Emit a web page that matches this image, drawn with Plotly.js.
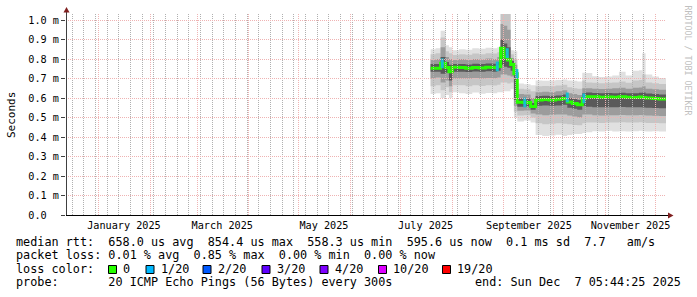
<!DOCTYPE html>
<html><head><meta charset="utf-8">
<script src="https://cdn.plot.ly/plotly-3.0.1.min.js"></script>
<style>html,body{margin:0;padding:0;background:#fff}</style>
</head><body><div id="chart" style="width:697px;height:297px"></div>
<script>
// ---------- data (values in milliseconds) ----------
const dates = ['2025-07-19','2025-07-22','2025-07-25','2025-07-28','2025-07-30','2025-08-01','2025-08-05','2025-08-09','2025-08-13','2025-08-17',
 '2025-08-21','2025-08-25','2025-08-28','2025-08-30','2025-09-01','2025-09-03','2025-09-05','2025-09-07','2025-09-09','2025-09-13',
 '2025-09-17','2025-09-20','2025-09-24','2025-09-28','2025-10-02','2025-10-06','2025-10-09','2025-10-12','2025-10-15','2025-10-18',
 '2025-10-20','2025-10-24','2025-10-28','2025-11-01','2025-11-05','2025-11-09','2025-11-13','2025-11-17','2025-11-21','2025-11-23',
 '2025-11-25','2025-11-29','2025-12-03','2025-12-07 05:44:25'];
const median = [0.752,0.752,0.778,0.757,0.735,0.758,0.756,0.752,0.757,0.754,
 0.758,0.756,0.762,0.855,0.810,0.795,0.772,0.725,0.578,0.577,
 0.556,0.590,0.592,0.590,0.593,0.598,0.580,0.572,0.565,0.598,
 0.607,0.606,0.604,0.605,0.604,0.606,0.604,0.603,0.605,0.603,
 0.600,0.598,0.595,0.595];
const pingMin = [0.620,0.625,0.600,0.615,0.600,0.630,0.625,0.620,0.628,0.622,
 0.626,0.624,0.630,0.630,0.635,0.635,0.645,0.500,0.480,0.485,
 0.475,0.410,0.405,0.408,0.412,0.405,0.410,0.415,0.415,0.420,
 0.425,0.430,0.428,0.432,0.428,0.430,0.428,0.430,0.432,0.430,
 0.428,0.430,0.428,0.428];
const band2Low = [0.660,0.665,0.640,0.655,0.630,0.665,0.665,0.660,0.665,0.662,
 0.666,0.664,0.668,0.680,0.680,0.675,0.680,0.530,0.510,0.512,
 0.500,0.470,0.465,0.468,0.470,0.468,0.465,0.462,0.460,0.470,
 0.475,0.475,0.472,0.475,0.474,0.476,0.474,0.475,0.476,0.474,
 0.472,0.472,0.470,0.470];
const band3Low = [0.700,0.705,0.680,0.690,0.660,0.700,0.700,0.700,0.702,0.700,
 0.703,0.701,0.705,0.720,0.720,0.715,0.710,0.560,0.535,0.536,
 0.520,0.515,0.512,0.514,0.516,0.515,0.510,0.505,0.500,0.515,
 0.515,0.512,0.510,0.512,0.511,0.513,0.511,0.512,0.513,0.511,
 0.510,0.509,0.508,0.508];
const band4Low = [0.735,0.735,0.725,0.730,0.690,0.735,0.735,0.733,0.736,0.734,
 0.737,0.735,0.740,0.770,0.760,0.755,0.740,0.590,0.555,0.556,
 0.540,0.560,0.562,0.560,0.562,0.565,0.550,0.545,0.540,0.560,
 0.555,0.553,0.552,0.553,0.552,0.554,0.552,0.552,0.553,0.551,
 0.550,0.549,0.548,0.548];
const band4High = [0.775,0.775,0.810,0.785,0.770,0.775,0.775,0.772,0.776,0.774,
 0.777,0.776,0.785,0.900,0.880,0.860,0.790,0.740,0.598,0.597,
 0.575,0.610,0.612,0.610,0.613,0.618,0.600,0.595,0.590,0.625,
 0.628,0.626,0.625,0.626,0.625,0.627,0.625,0.625,0.627,0.628,
 0.623,0.621,0.618,0.618];
const band3High = [0.795,0.800,0.860,0.810,0.800,0.795,0.800,0.795,0.800,0.798,
 0.802,0.800,0.810,0.980,0.970,0.950,0.805,0.770,0.620,0.618,
 0.600,0.630,0.632,0.630,0.634,0.640,0.625,0.620,0.615,0.650,
 0.650,0.648,0.646,0.648,0.650,0.652,0.648,0.652,0.654,0.660,
 0.648,0.645,0.642,0.642];
const band2High = [0.825,0.830,0.910,0.840,0.830,0.820,0.825,0.822,0.828,0.825,
 0.830,0.828,0.835,1.060,1.060,1.060,0.825,0.800,0.648,0.645,
 0.635,0.660,0.662,0.660,0.664,0.668,0.655,0.650,0.648,0.690,
 0.680,0.678,0.676,0.678,0.680,0.685,0.678,0.690,0.692,0.720,
 0.680,0.676,0.672,0.672];
const pingMax = [0.850,0.855,0.945,0.870,0.860,0.845,0.850,0.848,0.855,0.852,
 0.858,0.855,0.860,1.060,1.060,1.060,0.845,0.840,0.675,0.670,
 0.665,0.690,0.688,0.690,0.692,0.695,0.690,0.688,0.685,0.730,
 0.728,0.712,0.708,0.710,0.715,0.735,0.715,0.740,0.742,0.830,
 0.720,0.710,0.702,0.702];
const lossDates = ['2025-07-26','2025-08-28','2025-09-03','2025-09-08 18:00','2025-09-13 12:00','2025-10-09','2025-10-19'];
const lossValues = [0.778,0.762,0.830,0.723,0.577,0.603,0.598];

const monthLabelDates = ['2025-01-16','2025-03-16','2025-05-16','2025-07-16','2025-09-16','2025-11-16'];
const monthLabels = ['January 2025','March 2025','May 2025','July 2025','September 2025','November 2025'];
const yTickVals = [0,0.1,0.2,0.3,0.4,0.5,0.6,0.7,0.8,0.9,1.0];
const yTickText = ['0.0\u00a0\u00a0','0.1 m','0.2 m','0.3 m','0.4 m','0.5 m','0.6 m','0.7 m','0.8 m','0.9 m','1.0 m'];
const lossLegendLabels = ['0','1/20','2/20','3/20','4/20','10/20','19/20'];
const lossLegendColors = ['#26ff00','#00b8ff','#0059ff','#5e00ff','#7e00ff','#dd00ff','#ff0000'];
const statsRows = [
 'median rtt:  658.0 us avg  854.4 us max  558.3 us min  595.6 us now  0.1 ms sd  7.7   am/s',
 'packet loss: 0.01 % avg  0.85 % max  0.00 % min  0.00 % now',
 'loss color:',
 'probe:       20 ICMP Echo Pings (56 Bytes) every 300s'
];
const endText = 'end: Sun Dec  7 05:44:25 2025';
const xRange = ['2024-12-12 05:44:25','2025-12-07 05:44:25'];
const yRange = [0, 1.0308];

// ---------- geometry helpers (pixel -> paper) ----------
const W = 697, H = 297, L = 66, R = 31, T = 14, B = 82;
const PW = W - L - R, PH = H - T - B;
const px = v => (v - L) / PW;
const py = v => (H - B - v) / PH;
const nb = s => s.replace(/ /g, '\u00a0');
const MONO = "'DejaVu Sans Mono', monospace";

// ---------- traces ----------
const smokeBands = [
  [pingMin, pingMax, '#e0e0e0'],
  [band2Low, band2High, '#c6c6c6'],
  [band3Low, band3High, '#9c9c9c'],
  [band4Low, band4High, '#5a5a5a']
];
const traces = [];
smokeBands.forEach(([lo, hi, col]) => {
  traces.push({x: dates, y: lo, type: 'scatter', mode: 'lines', line: {width: 0, shape: 'hv'}, hoverinfo: 'skip', xaxis: 'x', yaxis: 'y'});
  traces.push({x: dates, y: hi, type: 'scatter', mode: 'lines', line: {width: 0, shape: 'hv'}, fill: 'tonexty', fillcolor: col, hoverinfo: 'skip', xaxis: 'x', yaxis: 'y'});
});
traces.push({x: dates, y: median, type: 'scatter', mode: 'lines', line: {color: lossLegendColors[0], width: 3, shape: 'hv'}, xaxis: 'x', yaxis: 'y', name: 'median'});
traces.push({x: lossDates, y: lossValues, type: 'scatter', mode: 'markers', marker: {symbol: 'line-ns-open', size: 7, line: {width: 3, color: lossLegendColors[1]}}, xaxis: 'x', yaxis: 'y', name: 'loss 1/20'});
// empty traces that own the overlay grid subplots
traces.push({x: [], y: [], type: 'scatter', xaxis: 'x2', yaxis: 'y2', hoverinfo: 'skip'});
traces.push({x: [], y: [], type: 'scatter', xaxis: 'x3', yaxis: 'y3', hoverinfo: 'skip'});

// ---------- annotations & shapes ----------
const annotations = [];
const shapes = [];
const rowCenters = [241.6, 254.9, 268.6, 281.9];
statsRows.forEach((t, i) => {
  annotations.push({text: nb(t), xref: 'paper', yref: 'paper', x: px(15.5), y: py(rowCenters[i]), xanchor: 'left', yanchor: 'middle',
    showarrow: false, borderpad: 0, borderwidth: 0, font: {family: MONO, size: 11.8, color: '#000'}});
});
annotations.push({text: nb(endText), xref: 'paper', yref: 'paper', x: px(681), y: py(rowCenters[3]), xanchor: 'right', yanchor: 'middle',
  showarrow: false, borderpad: 0, borderwidth: 0, font: {family: MONO, size: 11.8, color: '#000'}});
const boxLeft = [108.5, 146, 203, 262, 320, 378.5, 442.5];
lossLegendLabels.forEach((lab, i) => {
  const bx = boxLeft[i];
  shapes.push({type: 'rect', xref: 'paper', yref: 'paper', x0: px(bx), x1: px(bx + 8), y0: py(273.5), y1: py(265.5),
    fillcolor: lossLegendColors[i], line: {color: '#000', width: 1}});
  annotations.push({text: lab, xref: 'paper', yref: 'paper', x: px(bx + 14.5), y: py(rowCenters[2]), xanchor: 'left', yanchor: 'middle',
    showarrow: false, borderpad: 0, borderwidth: 0, font: {family: MONO, size: 11.8, color: '#000'}});
});
annotations.push({text: 'Seconds', xref: 'paper', yref: 'paper', x: px(11), y: py(115), xanchor: 'center', yanchor: 'middle', textangle: -90,
  showarrow: false, borderpad: 0, borderwidth: 0, font: {family: MONO, size: 11, color: '#000'}});
annotations.push({text: nb('RRDTOOL / TOBI OETIKER'), xref: 'paper', yref: 'paper', x: px(687.5), y: py(60), xanchor: 'center', yanchor: 'middle', textangle: 90,
  showarrow: false, borderpad: 0, borderwidth: 0, font: {family: MONO, size: 8.3, color: '#c0c0c0'}});
// axis lines and arrows
shapes.push({type: 'line', xref: 'paper', yref: 'paper', x0: px(66), x1: px(668), y0: py(215.5), y1: py(215.5), line: {color: '#000', width: 1}});
shapes.push({type: 'line', xref: 'paper', yref: 'paper', x0: px(66.5), x1: px(66.5), y0: py(215), y1: py(12), line: {color: '#404040', width: 1}});
shapes.push({type: 'path', xref: 'paper', yref: 'paper',
  path: `M ${px(63.5)} ${py(12.5)} L ${px(69.5)} ${py(12.5)} L ${px(66.5)} ${py(7)} Z`, fillcolor: '#7f1f1f', line: {width: 0}});
shapes.push({type: 'path', xref: 'paper', yref: 'paper',
  path: `M ${px(668)} ${py(212.5)} L ${px(668)} ${py(218.5)} L ${px(673.5)} ${py(215.5)} Z`, fillcolor: '#7f1f1f', line: {width: 0}});

const REDGRID = '#efb3b3', GRAYGRID = '#b0b0b0';
const layout = {
  width: W, height: H,
  margin: {l: L, r: R, t: T, b: B, pad: 0},
  paper_bgcolor: '#ffffff', plot_bgcolor: 'rgba(0,0,0,0)',
  showlegend: false,
  xaxis: {type: 'date', range: xRange, domain: [0, 1], anchor: 'y', tickmode: 'array', tickvals: monthLabelDates, ticktext: monthLabels,
    ticks: '', ticklabelstandoff: 3, showgrid: false, showline: false, zeroline: false, fixedrange: true,
    tickfont: {family: MONO, size: 10.2, color: '#000'}},
  yaxis: {range: yRange, domain: [0, 1], anchor: 'x', tickmode: 'array', tickvals: yTickVals, ticktext: yTickText,
    ticks: 'outside', ticklen: 4, tickwidth: 1, tickcolor: '#404040', showgrid: false, showline: false, zeroline: false, fixedrange: true,
    tickfont: {family: MONO, size: 10.2, color: '#000'}},
  // weekly grid (drawn above the data)
  xaxis2: {type: 'date', range: xRange, domain: [0, 1], anchor: 'y2', tickmode: 'linear', tick0: '2024-12-16', dtick: 604800000,
    showticklabels: false, ticks: '', showgrid: true, gridcolor: GRAYGRID, griddash: '1px,1px', gridwidth: 1,
    showline: false, zeroline: false, fixedrange: true},
  yaxis2: {range: yRange, domain: [0, 1], anchor: 'x2', showticklabels: false, ticks: '', showgrid: false, showline: false, zeroline: false, fixedrange: true},
  // monthly + value grid
  xaxis3: {type: 'date', range: xRange, domain: [0, 1], anchor: 'y3', tickmode: 'linear', tick0: '2025-01-01', dtick: 'M1',
    showticklabels: false, ticks: '', showgrid: true, gridcolor: REDGRID, griddash: '1px,1px', gridwidth: 1,
    showline: false, zeroline: false, fixedrange: true},
  yaxis3: {range: yRange, domain: [0, 1], anchor: 'x3', tickmode: 'array', tickvals: yTickVals, showticklabels: false, ticks: '',
    showgrid: true, gridcolor: REDGRID, griddash: '1px,1px', gridwidth: 1, showline: false, zeroline: false, fixedrange: true},
  annotations: annotations,
  shapes: shapes
};
Plotly.newPlot('chart', traces, layout, {staticPlot: true, displayModeBar: false});
</script>
</body></html>
